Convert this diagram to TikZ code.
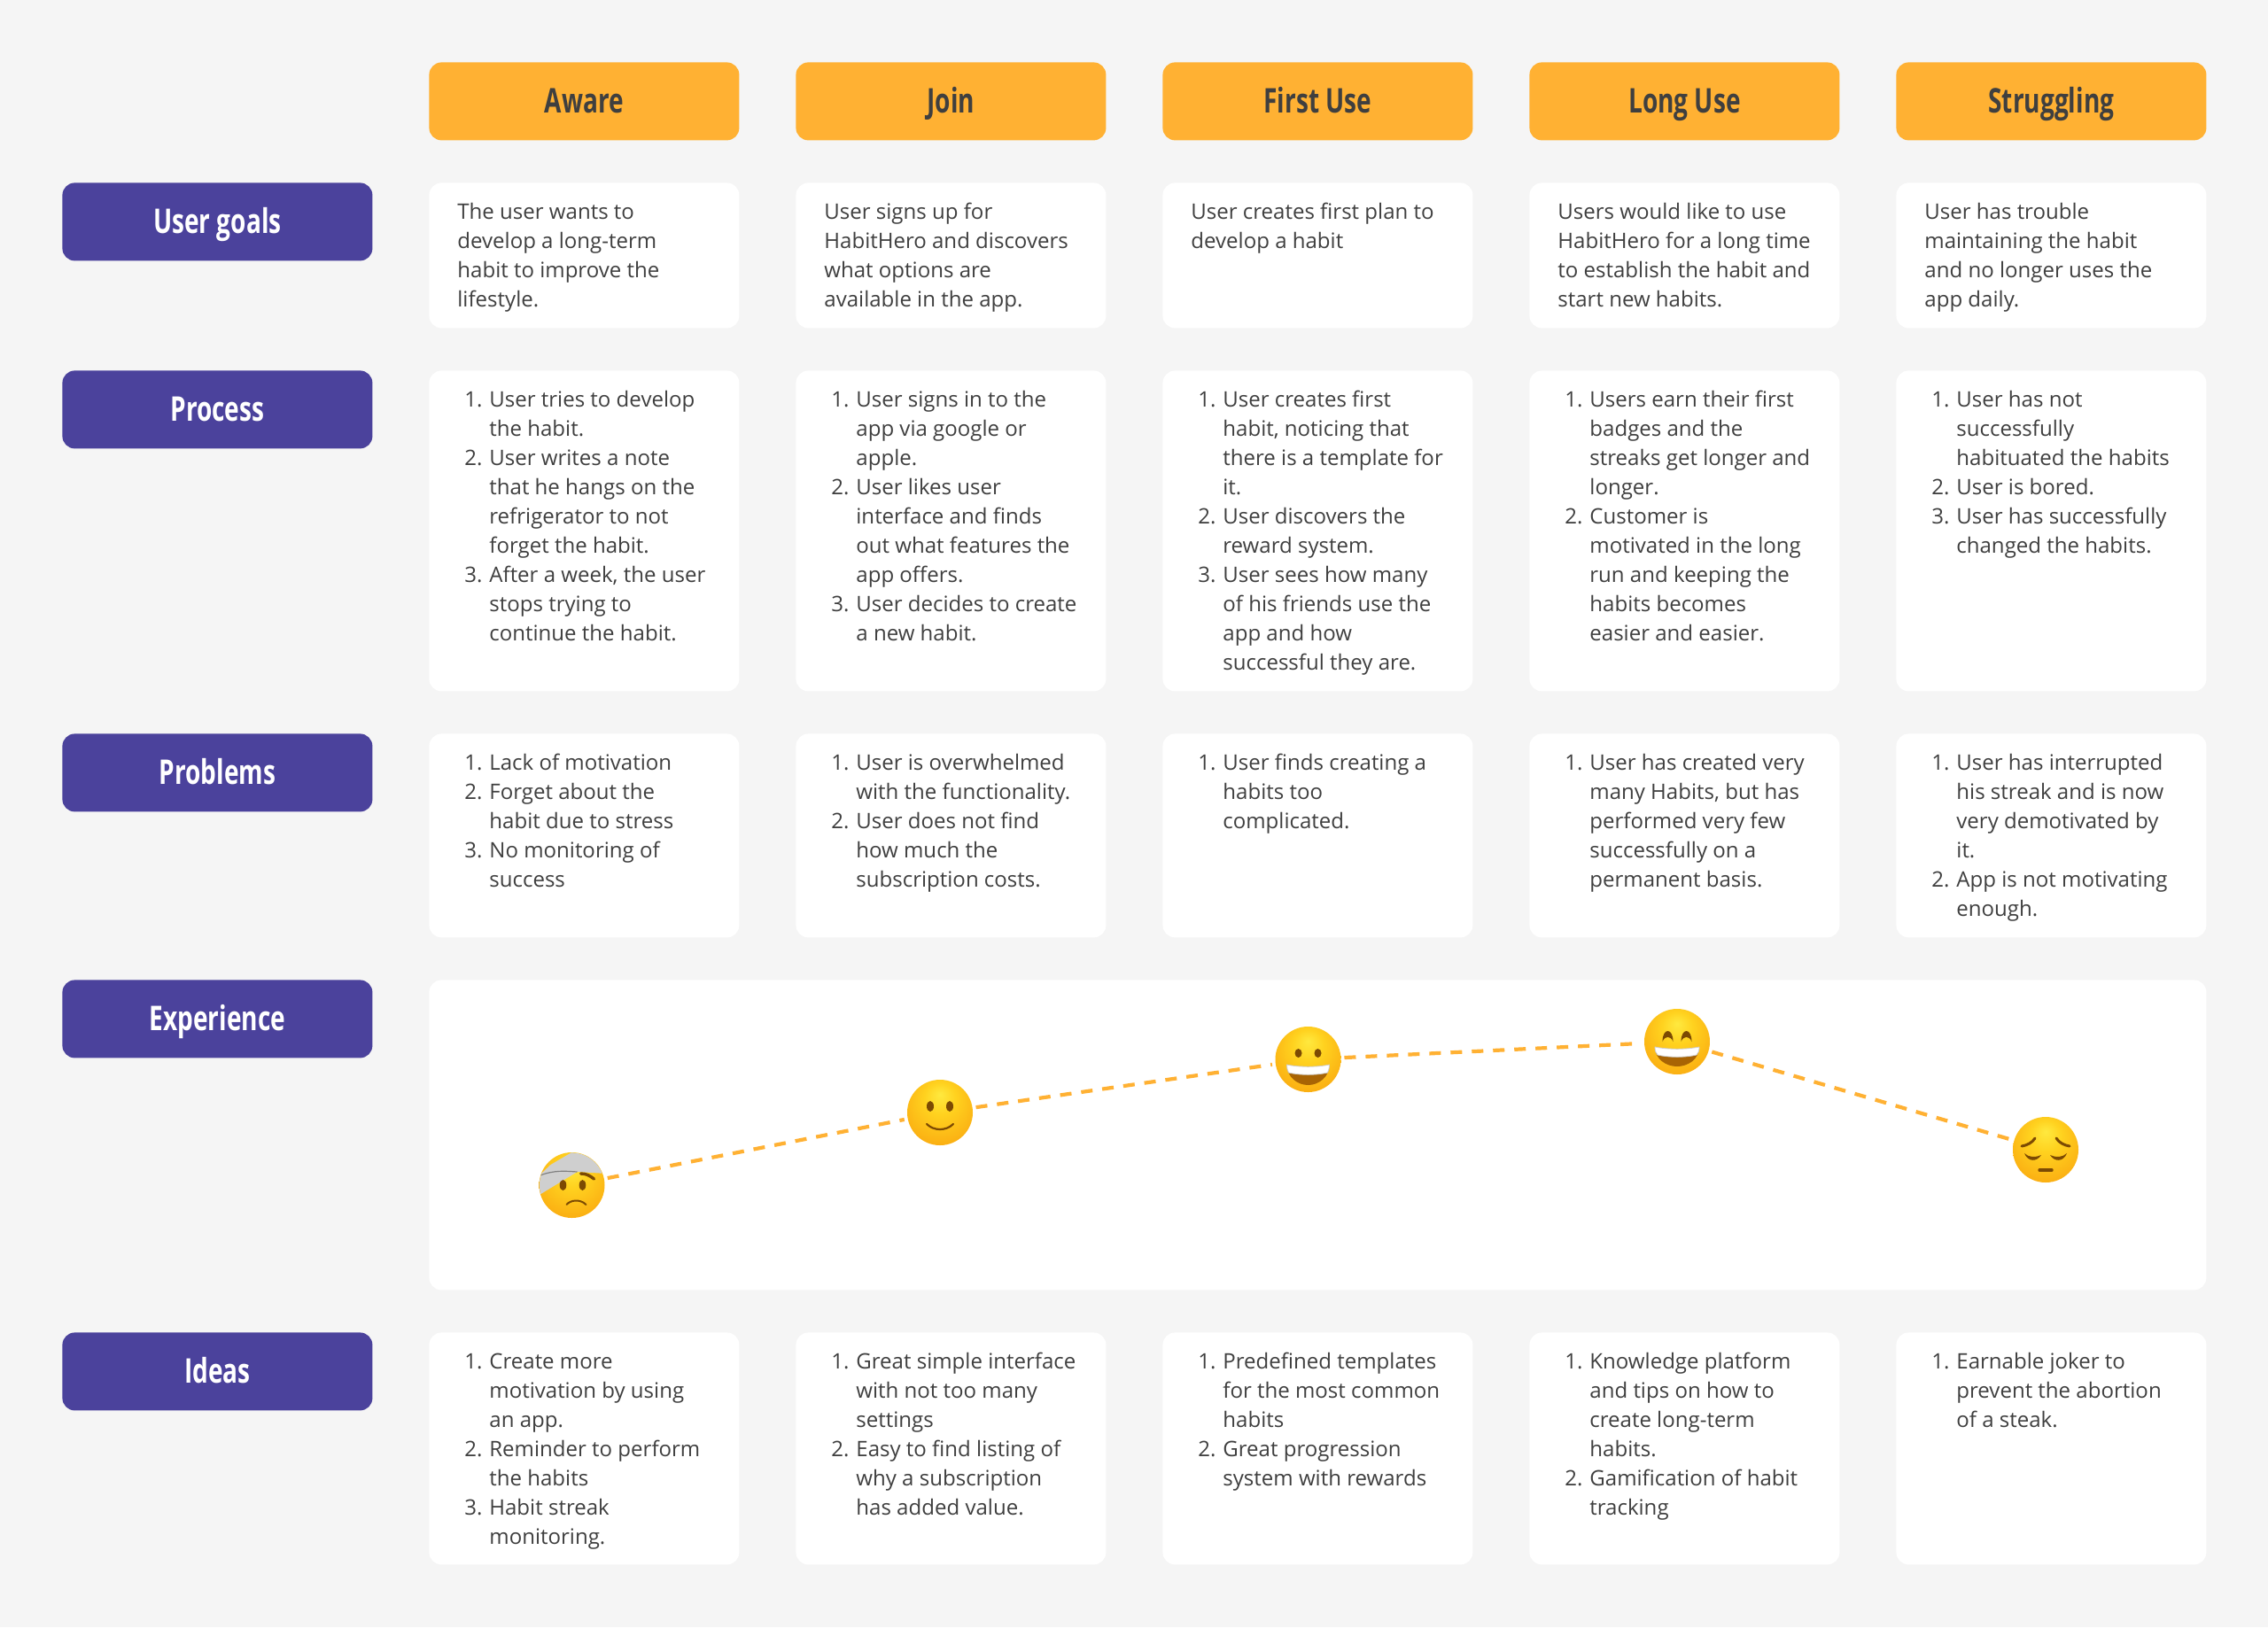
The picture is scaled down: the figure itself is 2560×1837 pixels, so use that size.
\documentclass[tikz,border=0pt]{standalone}
\usepackage{fontspec}
\setmainfont{Open Sans}
\newfontfamily\hdfont[FakeStretch=0.73]{Open Sans}
\definecolor{pagebg}{HTML}{F5F5F5}
\definecolor{orangebox}{HTML}{FFB133}
\definecolor{purplebox}{HTML}{4B429C}
\definecolor{inkdark}{HTML}{3F3F3F}
\definecolor{emoA}{HTML}{FFE93F}
\definecolor{emoB}{HTML}{FFD21F}
\definecolor{emoC}{HTML}{FBB013}
\definecolor{emoD}{HTML}{EC930A}
\definecolor{emoE}{HTML}{D07C08}
\definecolor{facebrown}{HTML}{7C4A03}
\definecolor{mouthbrown}{HTML}{A86404}
\definecolor{bandgrey}{HTML}{CFCFCF}
\pgfdeclareradialshading{emoface}{\pgfpoint{0bp}{14bp}}{color(0bp)=(emoA); color(12bp)=(emoB); color(30bp)=(emoC); color(42bp)=(emoD); color(50bp)=(emoE)}
\newcommand\nm[1]{\makebox[18pt][l]{\hspace{4pt}#1}}
\newcommand\ct{\hspace*{18pt}}
\tikzset{
  x=.5pt,y=-.5pt,
  hdbase/.style={rectangle,rounded corners=7pt,minimum width=175pt,minimum height=44pt,inner sep=0pt,anchor=north west,text height=13.5pt,text depth=0pt,font=\hdfont\fontsize{19.2}{22}\selectfont\bfseries},
  stagebox/.style={hdbase,fill=orangebox,text=inkdark},
  rowbox/.style={hdbase,fill=purplebox,text=white},
  card/.style={rectangle,rounded corners=7pt,fill=white,minimum width=175pt,inner sep=0pt,anchor=north west},
  cardtext/.style={inner sep=0pt,anchor=north west,align=left,text=inkdark,font=\fontsize{12.02}{16.5}\selectfont},
  emo/.style={circle,minimum size=37pt,inner sep=0pt,outer sep=2pt,shading=emoface},
  journey/.style={draw=orangebox,line width=2.1pt,dash pattern=on 6.5pt off 5.5pt},
  eye/.style={fill=facebrown},
  stroke/.style={draw=facebrown,line width=1.5pt,line cap=round},
  teeth/.style={fill=white,draw=bandgrey,line width=.4pt},
  mouth/.style={fill=mouthbrown}
}
\newcommand\cardcell[5]{%
  \node[card,minimum height=#4*0.5pt] (#1) at (#2,#3) {};
  \node[cardtext] (#1-text) at ([shift={(32,15)}]#1.north west) {\rule{0pt}{13pt}#5};
}
\begin{document}
\begin{tikzpicture}
\useasboundingbox[fill=pagebg] (0,0) rectangle (2560,1837);

% stage headers
\node[stagebox] (aware) at (484,70) {Aware};
\node[stagebox] (join) at (898,70) {Join};
\node[stagebox] (first) at (1312,70) {First Use};
\node[stagebox] (long) at (1726,70) {Long Use};
\node[stagebox] (strug) at (2140,70) {Struggling};

% row headers
\node[rowbox] (goals) at (70,206) {User goals};
\node[rowbox] (process) at (70,418) {Process};
\node[rowbox] (problems) at (70,828) {Problems};
\node[rowbox] (experience) at (70,1106) {Experience};
\node[rowbox] (ideas) at (70,1504) {Ideas};

% user goals
\cardcell{g1}{484}{206}{164}{The user wants to\\develop a long-term\\habit to improve the\\lifestyle.}
\cardcell{g2}{898}{206}{164}{User signs up for\\HabitHero and discovers\\what options are\\available in the app.}
\cardcell{g3}{1312}{206}{164}{User creates first plan to\\develop a habit}
\cardcell{g4}{1726}{206}{164}{Users would like to use\\HabitHero for a long time\\to establish the habit and\\start new habits.}
\cardcell{g5}{2140}{206}{164}{User has trouble\\maintaining the habit\\and no longer uses the\\app daily.}

% process
\cardcell{p1}{484}{418}{362}{\nm{1.}User tries to develop\\\ct the habit.\\\nm{2.}User writes a note\\\ct that he hangs on the\\\ct refrigerator to not\\\ct forget the habit.\\\nm{3.}After a week, the user\\\ct stops trying to\\\ct continue the habit.}
\cardcell{p2}{898}{418}{362}{\nm{1.}User signs in to the\\\ct app via google or\\\ct apple.\\\nm{2.}User likes user\\\ct interface and finds\\\ct out what features the\\\ct app offers.\\\nm{3.}User decides to create\\\ct a new habit.}
\cardcell{p3}{1312}{418}{362}{\nm{1.}User creates first\\\ct habit, noticing that\\\ct there is a template for\\\ct it.\\\nm{2.}User discovers the\\\ct reward system.\\\nm{3.}User sees how many\\\ct of his friends use the\\\ct app and how\\\ct successful they are.}
\cardcell{p4}{1726}{418}{362}{\nm{1.}Users earn their first\\\ct badges and the\\\ct streaks get longer and\\\ct longer.\\\nm{2.}Customer is\\\ct motivated in the long\\\ct run and keeping the\\\ct habits becomes\\\ct easier and easier.}
\cardcell{p5}{2140}{418}{362}{\nm{1.}User has not\\\ct successfully\\\ct habituated the habits\\\nm{2.}User is bored.\\\nm{3.}User has successfully\\\ct changed the habits.}

% problems
\cardcell{q1}{484}{828}{230}{\nm{1.}Lack of motivation\\\nm{2.}Forget about the\\\ct habit due to stress\\\nm{3.}No monitoring of\\\ct success}
\cardcell{q2}{898}{828}{230}{\nm{1.}User is overwhelmed\\\ct with the functionality.\\\nm{2.}User does not find\\\ct how much the\\\ct subscription costs.}
\cardcell{q3}{1312}{828}{230}{\nm{1.}User finds creating a\\\ct habits too\\\ct complicated.}
\cardcell{q4}{1726}{828}{230}{\nm{1.}User has created very\\\ct many Habits, but has\\\ct performed very few\\\ct successfully on a\\\ct permanent basis.}
\cardcell{q5}{2140}{828}{230}{\nm{1.}User has interrupted\\\ct his streak and is now\\\ct very demotivated by\\\ct it.\\\nm{2.}App is not motivating\\\ct enough.}

% experience panel
\node[card,minimum width=1003pt,minimum height=175pt] (panel) at (484,1106) {};

% ideas
\cardcell{i1}{484}{1504}{262}{\nm{1.}Create more\\\ct motivation by using\\\ct an app.\\\nm{2.}Reminder to perform\\\ct the habits\\\nm{3.}Habit streak\\\ct monitoring.}
\cardcell{i2}{898}{1504}{262}{\nm{1.}Great simple interface\\\ct with not too many\\\ct settings\\\nm{2.}Easy to find listing of\\\ct why a subscription\\\ct has added value.}
\cardcell{i3}{1312}{1504}{262}{\nm{1.}Predefined templates\\\ct for the most common\\\ct habits\\\nm{2.}Great progression\\\ct system with rewards}
\cardcell{i4}{1726}{1504}{262}{\nm{1.}Knowledge platform\\\ct and tips on how to\\\ct create long-term\\\ct habits.\\\nm{2.}Gamification of habit\\\ct tracking}
\cardcell{i5}{2140}{1504}{262}{\nm{1.}Earnable joker to\\\ct prevent the abortion\\\ct of a steak.}

% emoji faces
\node[emo] (hurt) at (645.5,1338) {};
\node[emo] (smile) at (1061,1256) {};
\node[emo] (grin) at (1476.5,1196) {};
\node[emo] (beam) at (1893,1176) {};
\node[emo] (sad) at (2309,1298) {};

% journey line
\draw[journey] (hurt) -- (smile);
\draw[journey] (smile) -- (grin);
\draw[journey] (grin) -- (beam);
\draw[journey] (beam) -- (sad);

% hurt face
\begin{scope}[shift={(hurt.center)}]
  \begin{scope}
    \clip (0,0) circle [radius=36.6];
    \fill[bandgrey] (-40,13) -- (6,-15) -- (40,-13) -- (40,-40) -- (5,-40) -- (-24,-23) -- (-40,-8) -- cycle;
    \draw[gray,line width=.6pt] (-36,-11) .. controls (-20,-17) and (-8,-16) .. (6,-15);
  \end{scope}
  \fill[eye] (-10,0) ellipse [x radius=3.8,y radius=6];
  \fill[eye] (12,0) ellipse [x radius=3.8,y radius=6];
  \draw[stroke,line width=1.7pt] (10,-13) .. controls (16,-13) and (20,-11) .. (25,-7);
  \draw[stroke,line width=1pt] (-6,22) .. controls (-2,17) and (9,15) .. (16,22);
\end{scope}

% smiling face
\begin{scope}[shift={(smile.center)}]
  \fill[eye] (-11,-7) ellipse [x radius=4,y radius=6];
  \fill[eye] (11,-7) ellipse [x radius=4,y radius=6];
  \draw[stroke,line width=1.1pt] (-15,13) .. controls (-7,21) and (7,21) .. (15,13);
\end{scope}

% grinning face
\begin{scope}[shift={(grin.center)}]
  \fill[eye] (-11,-7) ellipse [x radius=4,y radius=5];
  \fill[eye] (11,-7) ellipse [x radius=4,y radius=5];
  \fill[mouth] (-24,6) .. controls (-10,9) and (10,9) .. (24,6) .. controls (24,20) and (12,29) .. (0,29) .. controls (-12,29) and (-24,20) .. (-24,6) -- cycle;
  \path[teeth] (-24,6) .. controls (-10,9) and (10,9) .. (24,6) .. controls (24,10) and (23,13) .. (22,15) .. controls (10,18) and (-10,18) .. (-22,15) .. controls (-23,13) and (-24,10) .. (-24,6) -- cycle;
\end{scope}

% beaming face
\begin{scope}[shift={(beam.center)}]
  \foreach \sx in {-10.5,10.5}{
    \fill[eye] (\sx-6,0) .. controls (\sx-6,-8) and (\sx-3,-12) .. (\sx,-12) .. controls (\sx+3,-12) and (\sx+6,-8) .. (\sx+6,0) .. controls (\sx+3,-7) and (\sx-3,-7) .. (\sx-6,0) -- cycle;
  }
  \fill[mouth] (-25,6) .. controls (-10,9) and (10,9) .. (25,6) .. controls (25,20) and (12,28) .. (0,28) .. controls (-12,28) and (-25,20) .. (-25,6) -- cycle;
  \path[teeth] (-25,6) .. controls (-10,9) and (10,9) .. (25,6) .. controls (25,10) and (24,13) .. (22,15) .. controls (10,18) and (-10,18) .. (-22,15) .. controls (-24,13) and (-25,10) .. (-25,6) -- cycle;
\end{scope}

% pensive face
\begin{scope}[shift={(sad.center)}]
  \draw[stroke] (-27,-4) .. controls (-21,-5) and (-15,-8) .. (-12,-13);
  \draw[stroke] (27,-4) .. controls (21,-5) and (15,-8) .. (12,-13);
  \fill[eye] (-24,4) .. controls (-19,9) and (-11,9) .. (-5,6) .. controls (-10,14) and (-20,14) .. (-24,4) -- cycle;
  \fill[eye] (24,4) .. controls (19,9) and (11,9) .. (5,6) .. controls (10,14) and (20,14) .. (24,4) -- cycle;
  \draw[stroke,line width=1.7pt] (-7,23) -- (7,23);
\end{scope}
\end{tikzpicture}
\end{document}
